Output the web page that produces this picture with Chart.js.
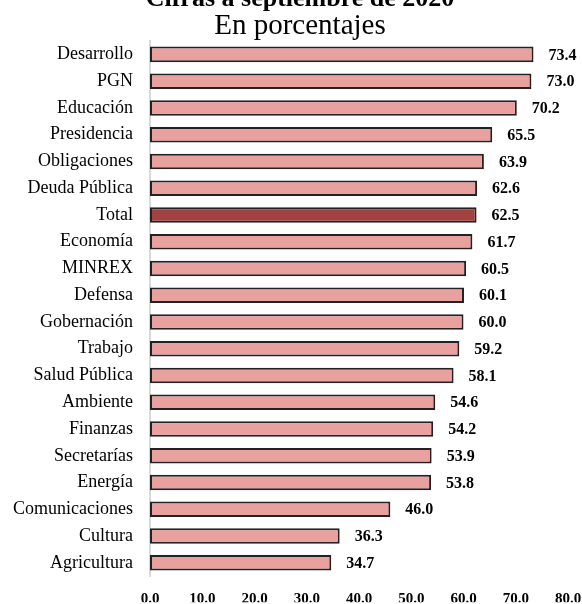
<!DOCTYPE html>
<html>
<head>
<meta charset="utf-8">
<script src="https://cdn.jsdelivr.net/npm/chart.js@4.4.1/dist/chart.umd.min.js"></script>
<style>
  body { margin: 0; background: #fff; }
  #wrap { width: 582px; height: 604px; }
</style>
</head>
<body>
<div id="wrap"><canvas id="myChart" width="582" height="604"></canvas></div>
<script>
var categories = ['Desarrollo', 'PGN', 'Educación', 'Presidencia', 'Obligaciones', 'Deuda Pública', 'Total',
  'Economía', 'MINREX', 'Defensa', 'Gobernación', 'Trabajo', 'Salud Pública', 'Ambiente', 'Finanzas',
  'Secretarías', 'Energía', 'Comunicaciones', 'Cultura', 'Agricultura'];
var values = [73.4, 73.0, 70.2, 65.5, 63.9, 62.6, 62.5, 61.7, 60.5, 60.1, 60.0, 59.2, 58.1, 54.6, 54.2,
  53.9, 53.8, 46.0, 36.3, 34.7];
var xTicks = [0, 10, 20, 30, 40, 50, 60, 70, 80];
var titleText = 'Cifras a septiembre de 2020';
var subtitleText = 'En porcentajes';

var serif = "'Liberation Serif', 'Times New Roman', serif";
var pink = '#e8a19f';
var dark = '#a14141';

var barColors = categories.map(function(c) { return c === 'Total' ? dark : pink; });

// titles are drawn by hand since the first line is clipped at the top
var titlePlugin = {
  id: 'titles',
  afterDraw: function(chart) {
    var ctx = chart.ctx;
    ctx.save();
    ctx.fillStyle = '#000';
    ctx.textAlign = 'center';
    ctx.textBaseline = 'alphabetic';
    ctx.font = 'bold 26px ' + serif;
    ctx.fillText(titleText, 300, 6);
    ctx.font = '29px ' + serif;
    ctx.fillText(subtitleText, 300, 34);
    ctx.restore();
  }
};

var valuePlugin = {
  id: 'values',
  afterDatasetsDraw: function(chart) {
    var ctx = chart.ctx;
    var meta = chart.getDatasetMeta(0);
    ctx.save();
    ctx.fillStyle = '#000';
    ctx.font = 'bold 16px ' + serif;
    ctx.textAlign = 'left';
    ctx.textBaseline = 'middle';
    meta.data.forEach(function(bar, i) {
      ctx.fillText(values[i].toFixed(1), bar.x + 15, bar.y + 1);
    });
    ctx.restore();
  }
};

var ctx = document.getElementById('myChart');
var myChart = new Chart(ctx, {
  type: 'bar',
  data: {
    labels: categories,
    datasets: [{
      data: values,
      backgroundColor: barColors,
      borderColor: '#222',
      borderWidth: 2,
      borderSkipped: false,
      categoryPercentage: 1,
      barPercentage: 0.58
    }]
  },
  options: {
    indexAxis: 'y',
    responsive: false,
    animation: false,
    layout: { padding: { top: 41, right: 14, left: 0, bottom: 0 } },
    plugins: {
      legend: { display: false },
      tooltip: { enabled: false }
    },
    scales: {
      x: {
        min: 0,
        max: 80,
        afterFit: function(scale) {
          scale.height = 26;
          scale.paddingLeft = 0;
          scale.paddingRight = 0;
        },
        afterBuildTicks: function(scale) {
          scale.ticks = xTicks.map(function(v) { return { value: v }; });
        },
        grid: { display: false, drawTicks: false },
        border: { display: false },
        ticks: {
          padding: 14,
          color: '#000',
          font: { family: serif, size: 15, weight: 'bold' },
          callback: function(v) { return Number(v).toFixed(1); }
        }
      },
      y: {
        afterFit: function(scale) { scale.width = 150; },
        grid: { display: false, drawTicks: false },
        border: { display: true, color: '#d9d9d9', width: 2 },
        ticks: {
          padding: 17,
          color: '#000',
          autoSkip: false,
          font: { family: serif, size: 18 }
        }
      }
    }
  },
  plugins: [titlePlugin, valuePlugin]
});
</script>
</body>
</html>
